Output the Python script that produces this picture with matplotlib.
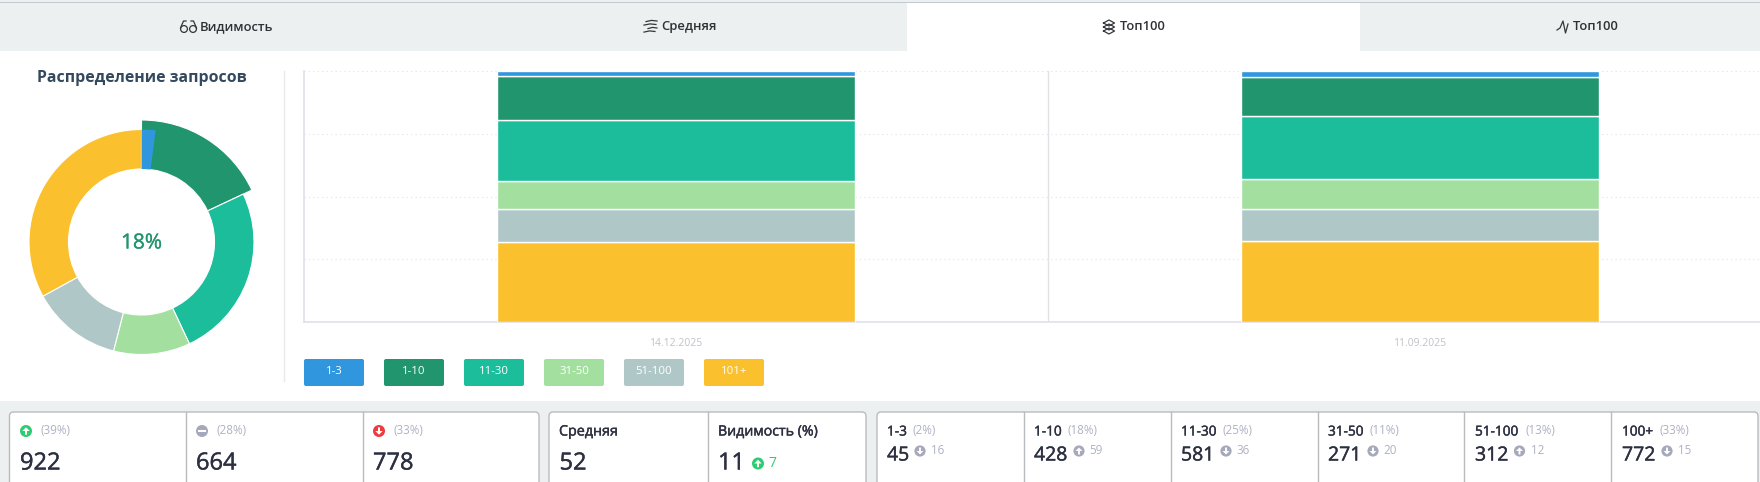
import matplotlib
matplotlib.use('Agg')
import matplotlib.pyplot as plt
import matplotlib.patheffects as pe
from matplotlib.patches import Rectangle, FancyBboxPatch, Circle, Polygon

plt.rcParams['font.family'] = ['Open Sans', 'DejaVu Sans']

# data
buckets = ['1-3', '1-10', '11-30', '31-50', '51-100', '101+']
colors = ['#3096de', '#21956d', '#1cbd9b', '#a3e0a0', '#b0c7c8', '#fbc02d']
dates = ['14.12.2025', '11.09.2025']
counts_first = [45, 428, 581, 271, 312, 772]
counts_second = [61, 369, 617, 291, 300, 787]
donut_share = [18, 25, 11, 13, 33]
top_share = 2
donut_label = '18%'

move_labels = ['(39%)', '(28%)', '(33%)']
move_values = ['922', '664', '778']
move_colors = ['#2ecc71', '#a5a9bb', '#f0393c']
move_arrows = ['up', 'flat', 'down']

bucket_names = ['1-3', '1-10', '11-30', '31-50', '51-100', '100+']
bucket_shares = ['(2%)', '(18%)', '(25%)', '(11%)', '(13%)', '(33%)']
bucket_values = ['45', '428', '581', '271', '312', '772']
bucket_deltas = ['16', '59', '36', '20', '12', '15']
bucket_arrows = ['down', 'up', 'down', 'down', 'up', 'down']

W, H = 1760, 482
fig = plt.figure(figsize=(W / 100, H / 100), dpi=100, facecolor='white')

# page layer, pixel coordinates
bg = fig.add_axes([0, 0, 1, 1], zorder=0)
bg.set_xlim(0, W)
bg.set_ylim(H, 0)
bg.axis('off')

GREY = '#ecf0f1'
TEXT = '#2c3040'
MUTED = '#aeb2c2'
# Open Sans has no medium weight here, so thicken the regular one a little
MEDIUM = [pe.withStroke(linewidth=0.3, foreground=TEXT)]


def arrow_icon(ax, x, y, r, color, kind):
    ax.add_patch(Circle((x, y), r, color=color, lw=0, zorder=4))
    s = r * 0.62
    if kind == 'flat':
        ax.add_patch(Rectangle((x - s, y - r * 0.2), 2 * s, r * 0.4, color='white', lw=0, zorder=5))
        return
    d = -1 if kind == 'up' else 1
    w = r * 0.17
    pts = [(x - w, y - d * s), (x + w, y - d * s), (x + w, y), (x + s, y), (x, y + d * s), (x - s, y), (x - w, y)]
    ax.add_patch(Polygon(pts, closed=True, color='white', lw=0, zorder=5))


def card(ax, x0, x1, dividers):
    ax.add_patch(FancyBboxPatch((x0, 412), x1 - x0, 100, boxstyle='round,pad=0,rounding_size=4',
                                fc='white', ec='#b9bcbf', lw=1, zorder=2))
    for d in dividers:
        ax.plot([d, d], [412, H], color='#b9bcbf', lw=1, zorder=3)


# tabs
bg.add_patch(Rectangle((0, 0), W, 51, color=GREY, lw=0))
bg.add_patch(Rectangle((907, 3), 453, 48, color='white', lw=0))
bg.add_patch(Rectangle((0, 1.5), W, 1.8, color='#c4c8cf', lw=0))
tab_font = dict(fontsize=9.4, fontweight=600, color='#2f3136', va='center', ha='left')
bg.text(200, 26.5, 'Видимость', **tab_font)
bg.text(661, 26.5, 'Средняя', **tab_font)
bg.text(1120, 26.5, 'Топ100', **tab_font)
bg.text(1573, 26.5, 'Топ100', **tab_font)

# tab icons
ic = dict(color='#33363b', lw=0.9)
for cx in (184, 193):
    bg.add_patch(Circle((cx, 29), 3.4, fill=False, ec='#33363b', lw=0.9))
bg.plot([180.5, 183.5, 186], [28, 21, 21], **ic)
bg.plot([196.5, 193.5, 191], [28, 21, 21], **ic)
for yy, x0, x1 in [(21, 646, 657), (24.5, 644, 656), (28, 648, 657), (31.5, 644, 655)]:
    bg.plot([x0, (x0 + x1) / 2, x1], [yy + 0.6, yy - 0.6, yy], **ic)
for yy in (23, 27, 31):
    bg.plot([1103.5, 1109, 1114.5, 1109, 1103.5], [yy, yy - 3, yy, yy + 3, yy], **ic)
bg.plot([1557, 1560, 1563, 1565.5, 1568], [30, 28, 21, 33, 24], **ic)

# donut side
bg.text(142, 78, 'Распределение запросов', fontsize=11.4, fontweight='bold', color='#34495e',
        ha='center', va='center')
bg.plot([283.5, 283.5], [71, 381], color='#e8eaec', lw=1)

# legend buttons
for i, (name, col) in enumerate(zip(buckets, colors)):
    x = 304 + 80 * i
    bg.add_patch(FancyBboxPatch((x, 359), 60, 27, boxstyle='round,pad=0,rounding_size=2',
                                fc=col, ec='none'))
    bg.text(x + 30, 372, name, fontsize=8.2, color='white', ha='center', va='center')

# bottom strip and cards
bg.add_patch(Rectangle((0, 401), W, H - 401, color=GREY, lw=0))
card(bg, 9.5, 539, [185.5, 362.5])
card(bg, 549, 866, [707.5])
card(bg, 877, 1758, [1023.5, 1170.5, 1317.5, 1464, 1611])

for x, lab, val, col, kind in zip([26, 202, 379], move_labels, move_values, move_colors, move_arrows):
    arrow_icon(bg, x, 431, 6, col, kind)
    bg.text(x + 14.5, 430.5, lab, fontsize=8.4, color=MUTED, va='center')
    bg.text(x - 6, 463.5, val, fontsize=17, color=TEXT, va='center', path_effects=MEDIUM)

bg.text(559, 432, 'Средняя', fontsize=10.3, color=TEXT, va='center', path_effects=MEDIUM)
bg.text(559.5, 463.5, '52', fontsize=17, color=TEXT, va='center', path_effects=MEDIUM)
bg.text(718, 432, 'Видимость (%)', fontsize=10.2, color=TEXT, va='center', path_effects=MEDIUM)
bg.text(718, 463.5, '11', fontsize=17, color=TEXT, va='center', path_effects=MEDIUM)
arrow_icon(bg, 758, 463.5, 6, '#2ecc71', 'up')
bg.text(768, 463.5, '7', fontsize=10, color='#2ecc71', va='center')

col_x = [887, 1034, 1181, 1328, 1475, 1622]
share_x = [912.5, 1067, 1222.5, 1369.5, 1525, 1659]
icon_x = [920, 1079, 1226, 1373, 1519.5, 1667]
delta_x = [931, 1089, 1236, 1383.5, 1531, 1678]
for i in range(6):
    bg.text(col_x[i], 432, bucket_names[i], fontsize=9.8, color=TEXT, va='center', path_effects=MEDIUM)
    bg.text(share_x[i], 431, bucket_shares[i], fontsize=8.4, color=MUTED, va='center')
    bg.text(col_x[i], 455.5, bucket_values[i], fontsize=14, color=TEXT, va='center', path_effects=MEDIUM)
    arrow_icon(bg, icon_x[i], 451, 5.6, '#a5a9bb', bucket_arrows[i])
    bg.text(delta_x[i], 450.5, bucket_deltas[i], fontsize=8.4, color=MUTED, va='center')

# donut, 1-3 sits on top of the pulled out 1-10 slice
half = 130
cx, cy = 141.5, 242
ax_d = fig.add_axes([(cx - half) / W, 1 - (cy + half) / H, 2 * half / W, 2 * half / H], zorder=2)
wedges, _ = ax_d.pie(donut_share, colors=colors[1:], startangle=90, counterclock=False, radius=112.5,
                     wedgeprops=dict(width=39.5, edgecolor='white', linewidth=0.8))
wedges[0].set_radius(122)
wedges[0].set_width(49)
top, _ = ax_d.pie([top_share, 100 - top_share], colors=[colors[0], 'none'], startangle=90,
                  counterclock=False, radius=112.5, wedgeprops=dict(width=39.5, linewidth=0))
ax_d.set_xlim(-half, half)
ax_d.set_ylim(-half, half)
ax_d.text(0, -1, donut_label, fontsize=15, color=colors[1], ha='center', va='center',
          path_effects=[pe.withStroke(linewidth=0.2, foreground=colors[1])])

# stacked bars, axes runs past the right edge of the page
left, right, y_top, y_bot = 304, W, 71, 322
cat_w = 744
ax = fig.add_axes([left / W, 1 - y_bot / H, (right - left) / W, (y_bot - y_top) / H], zorder=1)
ax.patch.set_alpha(0)
ax.set_xlim(-0.5, (right - left) / cat_w - 0.5)
ax.set_ylim(0, 100)
for xi, counts in enumerate([counts_first, counts_second]):
    total = sum(counts)
    bottom = 0
    for val, col in zip(reversed(counts), reversed(colors)):
        pct = val / total * 100
        ax.bar(xi, pct, width=0.48, bottom=bottom, color=col, edgecolor='white', linewidth=1, zorder=3)
        bottom += pct
ax.set_xticks([0, 1], dates)
ax.tick_params(axis='x', length=0, labelsize=7.5, labelcolor='#c0c2c8', pad=11.8)
ax.set_yticks([25, 50, 75, 100])
ax.tick_params(axis='y', length=0, labelleft=False)
ax.grid(axis='y', color='#dfe2e6', linestyle=(0, (1, 3)), linewidth=0.8, zorder=0)
ax.axvline(0.5, color='#e0e2e6', lw=1, zorder=1)
for s in ('top', 'right'):
    ax.spines[s].set_visible(False)
for s in ('left', 'bottom'):
    ax.spines[s].set_color('#dfe1e7')
    ax.spines[s].set_linewidth(1.2)

fig.savefig('out.png', dpi=100, facecolor='white')
